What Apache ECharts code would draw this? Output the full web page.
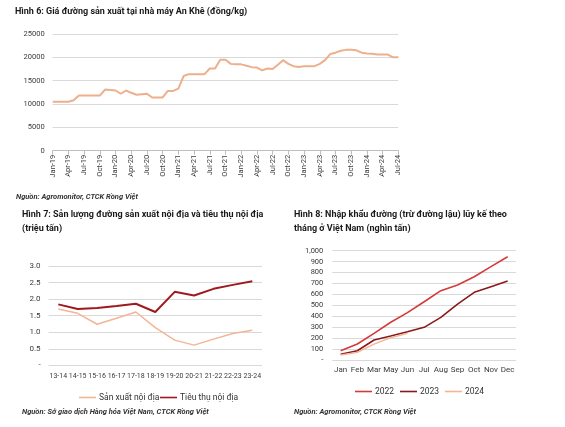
<!DOCTYPE html>
<html><head><meta charset="utf-8">
<script src="https://cdn.jsdelivr.net/npm/echarts@6/dist/echarts.min.js"></script>
<style>html,body{margin:0;padding:0;background:#fff}#c{width:565px;height:427px}</style>
</head><body><div id="c"></div>
<script>
// Chart 1: monthly price at An Khe factory (dong/kg), Jan-19 .. Jul-24
const months1 = (function(){const m=['Jan','Feb','Mar','Apr','May','Jun','Jul','Aug','Sep','Oct','Nov','Dec'];const r=[];for(let y=19;y<=24;y++){for(let i=0;i<12;i++){if(y===24&&i>6)break;r.push(m[i]+'-'+y);}}return r;})();
const price1 = [10500,10500,10500,10500,10800,11800,11800,11800,11800,11800,13100,13000,
  12900,12200,12900,12400,12000,12100,12200,11400,11400,11400,12800,12800,
  13300,16000,16400,16400,16400,16400,17600,17600,19500,19500,18600,18500,
  18500,18200,17900,17800,17200,17600,17500,18400,19400,18600,18100,17950,
  18100,18100,18100,18600,19400,20700,21000,21400,21600,21650,21500,21000,
  20800,20750,20600,20600,20600,20000,20000];
// Chart 2: domestic production vs consumption (million tonnes)
const seasons2 = ['13-14','14-15','15-16','16-17','17-18','18-19','19-20','20-21','21-22','22-23','23-24'];
const production2 = [1.70,1.57,1.24,1.42,1.61,1.14,0.76,0.61,0.79,0.96,1.06];
const consumption2 = [1.84,1.70,1.73,1.79,1.86,1.61,2.22,2.11,2.31,2.43,2.54];
// Chart 3: cumulative imports by month (thousand tonnes)
const months3 = ['Jan','Feb','Mar','May','Jun','Jul','Aug','Sep','Oct','Nov','Dec'];
const imp2022 = [85,146,244,345,433,533,634,686,762,854,945];
const imp2023 = [52,85,183,220,259,299,390,512,619,671,723];
const imp2024 = [46,70,146,204,244];

const FONT = 'Roboto';
const txt = '#3a3a3a', grid = '#D9D9D9';
const c1 = '#EDAF8C', light = '#F2B596', dark = '#9E1A1F', red = '#D43A3A', dark3 = '#8A1A1C';

const chart = echarts.init(document.getElementById('c'), null, {renderer:'canvas'});
const axLabel = {color: txt, fontSize: 8, fontFamily: FONT};
const titleStyle = {fontSize: 9, fontWeight: 'bold', color: '#1a1a1a', fontFamily: FONT, lineHeight: 14};
const srcStyle = {fontSize: 7.5, fontStyle: 'italic', color: '#333', fontFamily: FONT};

function legendItem(name, left, top){
  return {data:[name], left:left, top:top, icon:'rect', itemWidth:17, itemHeight:1.6, itemGap:0,
    textStyle:{fontSize:8.5, color:'#333', fontFamily:FONT, padding:[0,0,0,-2]}, selectedMode:false};
}

chart.setOption({
  animation:false,
  textStyle:{fontFamily:FONT},
  title:[
    {text:'Hình 6: Giá đường sản xuất tại nhà máy An Khê (đồng/kg)', left:15, top:5, textStyle:titleStyle, padding:0},
    {text:'Nguồn: Agromonitor, CTCK Rồng Việt', left:16, top:193, textStyle:srcStyle, padding:0},
    {text:'Hình 7: Sản lượng đường sản xuất nội địa và tiêu thụ nội địa\n(triệu tấn)', left:22, top:208, textStyle:titleStyle, padding:0},
    {text:'Nguồn: Sở giao dịch Hàng hóa Việt Nam, CTCK Rồng Việt', left:22, top:408, textStyle:srcStyle, padding:0},
    {text:'Hình 8: Nhập khẩu đường (trừ đường lậu) lũy kế theo\ntháng ở Việt Nam (nghìn tấn)', left:294, top:208, textStyle:titleStyle, padding:0},
    {text:'Nguồn: Agromonitor, CTCK Rồng Việt', left:294, top:408, textStyle:srcStyle, padding:0}
  ],
  legend:[
    legendItem('Sản xuất nội địa', 74, 388),
    legendItem('Tiêu thụ nội địa', 155, 388),
    legendItem('2022', 350, 382),
    legendItem('2023', 395, 382),
    legendItem('2024', 440, 382)
  ],
  grid:[
    {left:52.7, top:34, width:345.6, height:116.7},
    {left:48.6, top:266, width:213.4, height:99.3},
    {left:332.3, top:250.7, width:183.7, height:109.3}
  ],
  xAxis:[
    {type:'category', gridIndex:0, data:months1, boundaryGap:false,
     axisLine:{lineStyle:{color:'#BFBFBF'}}, axisTick:{interval:2, length:4, lineStyle:{color:'#BFBFBF'}},
     axisLabel:Object.assign({}, axLabel, {interval:2, rotate:90, margin:4, fontSize:7.5})},
    {type:'category', gridIndex:1, data:seasons2, boundaryGap:true,
     axisLine:{show:false}, axisTick:{show:false},
     axisLabel:Object.assign({}, axLabel, {interval:0, margin:7, fontSize:7})},
    {type:'category', gridIndex:2, data:months3, boundaryGap:true,
     axisLine:{show:false}, axisTick:{show:false},
     axisLabel:Object.assign({}, axLabel, {interval:0, margin:6, fontSize:8})}
  ],
  yAxis:[
    {type:'value', gridIndex:0, min:0, max:25000, interval:5000,
     axisLine:{show:false}, axisTick:{show:false}, splitLine:{lineStyle:{color:grid}},
     axisLabel:Object.assign({}, axLabel, {margin:8, fontSize:7.5, formatter:v=>String(v)})},
    {type:'value', gridIndex:1, min:0, max:3, interval:0.5,
     axisLine:{show:false}, axisTick:{show:false}, splitLine:{lineStyle:{color:grid}},
     axisLabel:Object.assign({}, axLabel, {margin:8, formatter:v=> v===0?'-':v.toFixed(1)})},
    {type:'value', gridIndex:2, min:0, max:1000, interval:100,
     axisLine:{show:false}, axisTick:{show:false}, splitLine:{lineStyle:{color:grid}},
     axisLabel:Object.assign({}, axLabel, {margin:9, fontSize:7.5, formatter:v=> v===0?'-':v.toLocaleString('en-US')})}
  ],
  series:[
    {type:'line', xAxisIndex:0, yAxisIndex:0, data:price1, symbol:'none', lineStyle:{color:c1, width:2}, itemStyle:{color:c1}},
    {name:'Sản xuất nội địa', type:'line', xAxisIndex:1, yAxisIndex:1, data:production2, symbol:'none', lineStyle:{color:light, width:1.5}, itemStyle:{color:light}},
    {name:'Tiêu thụ nội địa', type:'line', xAxisIndex:1, yAxisIndex:1, data:consumption2, symbol:'none', lineStyle:{color:dark, width:2}, itemStyle:{color:dark}},
    {name:'2022', type:'line', xAxisIndex:2, yAxisIndex:2, data:imp2022, symbol:'none', lineStyle:{color:red, width:1.6}, itemStyle:{color:red}},
    {name:'2023', type:'line', xAxisIndex:2, yAxisIndex:2, data:imp2023, symbol:'none', lineStyle:{color:dark3, width:1.6}, itemStyle:{color:dark3}},
    {name:'2024', type:'line', xAxisIndex:2, yAxisIndex:2, data:imp2024, symbol:'none', lineStyle:{color:light, width:1.4}, itemStyle:{color:light}}
  ]
});
</script></body></html>
